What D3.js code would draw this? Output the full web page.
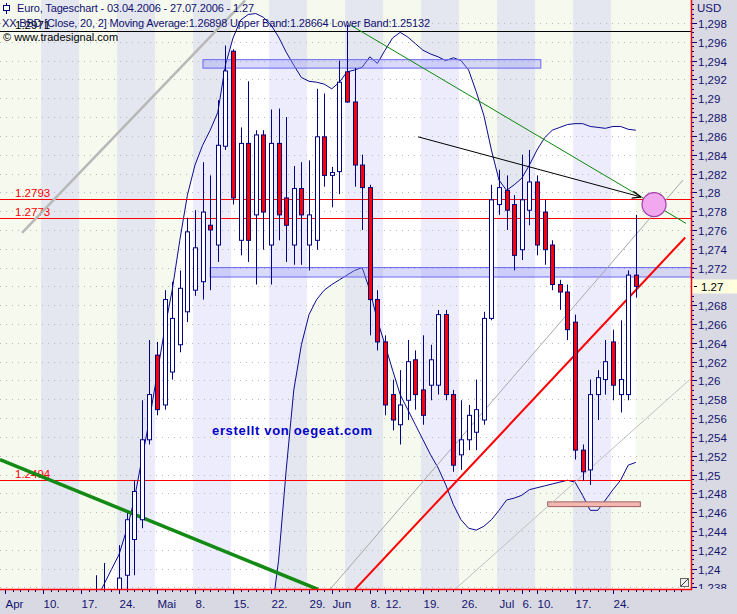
<!DOCTYPE html>
<html><head><meta charset="utf-8">
<script src="https://cdn.jsdelivr.net/npm/d3@7"></script>
<style>
body{margin:0;background:#fff;}
svg{display:block;font-family:"Liberation Sans",Arial,sans-serif;}
</style></head><body>
<svg id="chart" width="737" height="614"></svg>
<script>
// ---------------- data ----------------
const dates = ["03.04.","04.04.","05.04.","06.04.","07.04.","10.04.","11.04.","12.04.","13.04.","14.04.",
"17.04.","18.04.","19.04.","20.04.","21.04.","24.04.","25.04.","26.04.","27.04.","28.04.",
"01.05.","02.05.","03.05.","04.05.","05.05.","08.05.","09.05.","10.05.","11.05.","12.05.",
"15.05.","16.05.","17.05.","18.05.","19.05.","22.05.","23.05.","24.05.","25.05.","26.05.",
"29.05.","30.05.","31.05.","01.06.","02.06.","05.06.","06.06.","07.06.","08.06.","09.06.",
"12.06.","13.06.","14.06.","15.06.","16.06.","19.06.","20.06.","21.06.","22.06.","23.06.",
"26.06.","27.06.","28.06.","29.06.","30.06.","03.07.","04.07.","05.07.","06.07.","07.07.",
"10.07.","11.07.","12.07.","13.07.","14.07.","17.07.","18.07.","19.07.","20.07.","21.07.",
"24.07.","25.07.","26.07.","27.07."];
const open  = [1.2110,1.2150,1.2230,1.2260,1.2180,1.2100,1.2110,1.2120,1.2090,1.2100,
1.2110,1.2220,1.2320,1.2350,1.2330,1.2350,1.2393,1.2431,1.2452,1.2537,
1.2627,1.2574,1.2609,1.2638,1.2673,1.2696,1.2705,1.2765,1.2744,1.2849,
1.2950,1.2749,1.2852,1.2776,1.2861,1.2744,1.2852,1.2794,1.2744,1.2804,
1.2744,1.2749,1.2859,1.2818,1.2822,1.2928,1.2896,1.2829,1.2805,1.2686,
1.2641,1.2585,1.2553,1.2579,1.2622,1.2590,1.2595,1.2595,1.2670,1.2585,
1.2521,1.2537,1.2545,1.2558,1.2666,1.2787,1.2802,1.2787,1.2739,1.2781,
1.2811,1.2779,1.2744,1.2702,1.2694,1.2662,1.2526,1.2505,1.2585,1.2601,
1.2641,1.2585,1.2585,1.2712];
const high  = [1.2170,1.2240,1.2290,1.2270,1.2190,1.2130,1.2140,1.2130,1.2120,1.2120,
1.2240,1.2340,1.2393,1.2406,1.2370,1.2425,1.2459,1.2494,1.2579,1.2643,
1.2641,1.2696,1.2705,1.2717,1.2773,1.2781,1.2832,1.2818,1.2898,1.2956,
1.2952,1.2869,1.2918,1.2866,1.2866,1.2888,1.2889,1.2880,1.2828,1.2832,
1.2834,1.2910,1.2905,1.2827,1.2940,1.2978,1.2932,1.2840,1.2808,1.2696,
1.2648,1.2601,1.2611,1.2643,1.2632,1.2648,1.2638,1.2675,1.2675,1.2590,
1.2579,1.2574,1.2601,1.2673,1.2808,1.2824,1.2818,1.2797,1.2840,1.2845,
1.2818,1.2792,1.2749,1.2707,1.2702,1.2670,1.2532,1.2601,1.2611,1.2643,
1.2654,1.2664,1.2717,1.2776];
const low   = [1.2090,1.2140,1.2220,1.2170,1.2070,1.2080,1.2090,1.2070,1.2060,1.2090,
1.2100,1.2210,1.2300,1.2310,1.2300,1.2330,1.2378,1.2393,1.2443,1.2532,
1.2563,1.2569,1.2601,1.2630,1.2662,1.2690,1.2686,1.2696,1.2726,1.2845,
1.2787,1.2733,1.2726,1.2702,1.2739,1.2702,1.2749,1.2726,1.2723,1.2723,
1.2717,1.2739,1.2806,1.2784,1.2798,1.2895,1.2806,1.2760,1.2648,1.2632,
1.2563,1.2547,1.2532,1.2558,1.2569,1.2553,1.2579,1.2585,1.2579,1.2503,
1.2505,1.2526,1.2526,1.2553,1.2664,1.2776,1.2760,1.2717,1.2728,1.2765,
1.2733,1.2723,1.2696,1.2675,1.2643,1.2516,1.2494,1.2489,1.2558,1.2585,
1.2579,1.2566,1.2579,1.2688];
const close = [1.2150,1.2230,1.2260,1.2180,1.2100,1.2110,1.2120,1.2090,1.2100,1.2110,
1.2220,1.2320,1.2350,1.2330,1.2350,1.2390,1.2452,1.2482,1.2537,1.2585,
1.2569,1.2686,1.2666,1.2698,1.2758,1.2741,1.2779,1.2760,1.2850,1.2929,
1.2794,1.2852,1.2749,1.2861,1.2779,1.2852,1.2776,1.2765,1.2804,1.2776,
1.2776,1.2859,1.2818,1.2821,1.2917,1.2896,1.2829,1.2805,1.2686,1.2641,
1.2574,1.2558,1.2574,1.2620,1.2585,1.2563,1.2622,1.2670,1.2585,1.2510,
1.2537,1.2563,1.2569,1.2666,1.2792,1.2805,1.2781,1.2733,1.2792,1.2811,
1.2744,1.2739,1.2702,1.2694,1.2654,1.2526,1.2503,1.2585,1.2603,1.2620,
1.2595,1.2601,1.2712,1.2700];
// Bollinger (20,2), null = not visible
const upperBand = [null,null,null,null,null,null,null,null,null,null,null,null,
1.2367,1.2383,1.2399,1.2415,1.2441,1.2473,1.2516,1.2558,
1.2606,1.2654,1.2696,1.2749,1.2797,1.2829,1.2850,1.2866,1.2885,1.2935,
1.2964,1.2983,1.2989,1.2990,1.2986,1.2978,1.2965,1.2949,1.2935,1.2922,
1.2918,1.2917,1.2915,1.2910,1.2917,1.2928,1.2930,1.2933,1.2944,1.2937,
1.2951,1.2964,1.2970,1.2965,1.2958,1.2951,1.2947,1.2944,1.2940,1.2943,
1.2940,1.2930,1.2907,1.2882,1.2845,1.2813,1.2802,1.2808,1.2815,1.2829,
1.2845,1.2858,1.2866,1.2869,1.2872,1.2873,1.2873,1.2870,1.2869,1.2868,
1.2870,1.2870,1.2867,1.2866];
const lowerBand = [null,null,null,null,null,null,null,null,null,null,
null,null,null,null,null,null,null,null,null,null,
null,null,null,null,null,null,null,null,null,null,
null,null,null,null,null,1.2346,1.2409,1.2505,1.2590,1.2638,
1.2670,1.2686,1.2696,1.2702,1.2707,1.2712,1.2717,1.2720,1.2696,1.2664,
1.2638,1.2611,1.2585,1.2569,1.2553,1.2537,1.2521,1.2507,1.2489,1.2468,
1.2452,1.2443,1.2441,1.2445,1.2452,1.2462,1.2473,1.2475,1.2478,1.2484,
1.2486,1.2488,1.2490,1.2492,1.2494,1.2492,1.2478,1.2462,1.2462,1.2473,
1.2484,1.2494,1.2510,1.2513];
const yTickValues = [1.238,1.240,1.242,1.244,1.246,1.248,1.250,1.252,1.254,1.256,1.258,1.260,
1.262,1.264,1.266,1.268,1.270,1.272,1.274,1.276,1.278,1.280,1.282,1.284,1.286,1.288,1.290,
1.292,1.294,1.296,1.298];
const xTickLabels = ["Apr","10.","17.","24.","Mai","8.","15.","22.","29.","Jun","8.","12.","19.","26.","Jul","6.","10.","17.","24."];
const xTickDates  = ["03.04.","10.04.","17.04.","24.04.","01.05.","08.05.","15.05.","22.05.","29.05.","01.06.","08.06.","12.06.","19.06.","26.06.","03.07.","06.07.","10.07.","17.07.","24.07."];
const levelValues = [1.2971, 1.2793, 1.2773, 1.2494];
const levelLabels = ["1.2971","1.2793","1.2773","1.2494"];
const lastPrice = 1.27;
// drawn objects, in (day index, price)
const trendNames = ["grau","gruen","rot","kanalOben","kanalUnten","widerstand","pfeil"];
const trendFrom  = [[2.24,1.2757],[-0.66,1.2516],[46.05,1.2378],[42.76,1.2378],[59.2,1.2378],[45.4,1.2978],[54.34,1.2859]];
const trendTo    = [[31.6,1.3004],[41.18,1.2378],[89.5,1.2752],[89.2,1.2813],[90.1,1.2601],[89.6,1.2767],[83.7,1.2795]];
const boxNames = ["oben","mitte","unten"];
const boxDays  = [[26.05,70.5],[27,90.3],[71.4,83.6]];
const boxPrice = [[1.2932,1.2941],[1.2710,1.2720],[1.2466,1.2471]];
const circleAt = [85.4, 1.2787];

// ---------------- chart ----------------
const W = 737, H = 614, PR = 691, PB = 589;
const svg = d3.select("#chart");
const x = d3.scaleLinear().domain([0, 83]).range([5, 5 + 7.6 * 83]);
const y = d3.scaleLinear().domain([1.23784, 1.30044]).range([PB, 0]);

const C_CREAM = "#f6f9ee", C_GRAY = "#e4e7ef", C_LAV = "#ececfd", C_WHITE = "#ffffff";
const NAVY = "#000080";

svg.append("defs").append("clipPath").attr("id","plot")
  .append("rect").attr("x",0).attr("y",0).attr("width",PR).attr("height",PB);

const plot = svg.append("g").attr("clip-path","url(#plot)");
plot.append("rect").attr("width",PR).attr("height",PB).attr("fill",C_CREAM);

// weekly stripes (only over weeks with data)
const mondays = d3.range(0, dates.length, 5);
const grayWeeks = mondays.filter((m,k)=>k%2===1);
plot.selectAll("rect.wk").data(grayWeeks).enter().append("rect")
  .attr("class","wk").attr("x",m=>x(m-0.25)).attr("width",m=>x(m+4.75)-x(m-0.25))
  .attr("y",0).attr("height",PB).attr("fill",C_GRAY);

// band interior
const bandIdx = d3.range(dates.length).filter(i=>upperBand[i]!==null);
const area = d3.area().x(i=>x(i)).y1(i=>y(upperBand[i]))
  .y0(i=>lowerBand[i]!==null? y(lowerBand[i]) : PB+40);
svg.select("defs").append("clipPath").attr("id","band")
  .append("path").attr("d", area(bandIdx));
const bandG = plot.append("g").attr("clip-path","url(#band)");
bandG.append("rect").attr("width",PR).attr("height",PB).attr("fill",C_WHITE);
bandG.selectAll("rect.wk2").data(grayWeeks).enter().append("rect")
  .attr("x",m=>x(m-0.25)).attr("width",m=>x(m+4.75)-x(m-0.25))
  .attr("y",0).attr("height",PB).attr("fill",C_LAV);

// grid
plot.selectAll("line.grid").data(yTickValues).enter().append("line")
  .attr("x1",0).attr("x2",PR).attr("y1",v=>Math.round(y(v))+0.5).attr("y2",v=>Math.round(y(v))+0.5)
  .attr("stroke","#b8b8b8").attr("stroke-dasharray","1,5");

// band lines
const upLine = d3.line().x(i=>x(i)).y(i=>y(upperBand[i]));
plot.append("path").attr("d",upLine(bandIdx)).attr("fill","none").attr("stroke","#0a0a90").attr("stroke-width",1);
const lowIdx = d3.range(dates.length).filter(i=>lowerBand[i]!==null);
const lowLine = d3.line().x(i=>x(i)).y(i=>y(lowerBand[i]));
plot.append("path").attr("d",lowLine(lowIdx)).attr("fill","none").attr("stroke","#0a0a90").attr("stroke-width",1);

// boxes
const boxStyle = {oben:["rgba(150,150,250,0.35)","#6868f0"], mitte:["rgba(150,150,250,0.35)","#6868f0"], unten:["#f4b8b0","#a06060"]};
boxNames.forEach((n,k)=>{
  plot.append("rect").attr("x",x(boxDays[k][0])).attr("width",x(boxDays[k][1])-x(boxDays[k][0]))
    .attr("y",y(boxPrice[k][1])).attr("height",y(boxPrice[k][0])-y(boxPrice[k][1]))
    .attr("fill",boxStyle[n][0]).attr("stroke",boxStyle[n][1]).attr("stroke-width",1);
});

// horizontal levels
const levelColor = ["#000000","#ff0000","#ff0000","#ff0000"];
levelValues.forEach((v,k)=>{
  const yy = Math.round(y(v))+0.5;
  plot.append("line").attr("x1",0).attr("x2",PR).attr("y1",yy).attr("y2",yy)
    .attr("stroke",levelColor[k]).attr("stroke-width",1.2);
  plot.append("text").attr("x",15).attr("y",yy-3).attr("font-size",11.5)
    .attr("fill",levelColor[k]).text(levelLabels[k]);
});

// trend lines
const trendStyle = {grau:["#b8b8b8",2.5], gruen:["#138a13",3.5], rot:["#ff0000",2], kanalOben:["#a8a8a8",1],
  kanalUnten:["#c0c0c0",1], widerstand:["#0a8a0a",1], pfeil:["#000000",1]};
svg.select("defs").append("marker").attr("id","arr").attr("viewBox","0 0 10 10").attr("refX",10).attr("refY",5)
  .attr("markerWidth",9).attr("markerHeight",9).attr("orient","auto-start-reverse")
  .append("path").attr("d","M0,1 L10,5 L0,9").attr("fill","none").attr("stroke","#000").attr("stroke-width",1.2);
trendNames.forEach((n,k)=>{
  const l = plot.append("line").attr("x1",x(trendFrom[k][0])).attr("y1",y(trendFrom[k][1]))
    .attr("x2",x(trendTo[k][0])).attr("y2",y(trendTo[k][1]))
    .attr("stroke",trendStyle[n][0]).attr("stroke-width",trendStyle[n][1]);
  if(n==="pfeil") l.attr("marker-end","url(#arr)");
});

// candles
const cg = plot.append("g");
dates.forEach((d,i)=>{
  const c = Math.round(x(i));
  cg.append("line").attr("x1",c+0.5).attr("x2",c+0.5).attr("y1",y(high[i])).attr("y2",y(low[i]))
    .attr("stroke",NAVY).attr("stroke-width",1);
  const top = y(Math.max(open[i],close[i])), bot = y(Math.min(open[i],close[i]));
  cg.append("rect").attr("x",c-1.5).attr("width",4).attr("y",top).attr("height",Math.max(1,bot-top))
    .attr("fill",close[i]>=open[i]?"#ffffff":"#ff0000").attr("stroke",NAVY).attr("stroke-width",1);
});

// circle
plot.append("circle").attr("cx",x(circleAt[0])).attr("cy",y(circleAt[1])).attr("r",12)
  .attr("fill","#f2a8ee").attr("stroke","#a03ca8").attr("stroke-width",1.2);

// watermark text
plot.append("text").attr("x",212).attr("y",435).attr("font-size",13).attr("font-weight","bold")
  .attr("fill","#0000c8").attr("textLength",160).text("erstellt von oegeat.com");

// ---------------- axes ----------------
svg.append("rect").attr("x",PR).attr("y",0).attr("width",W-PR).attr("height",H).attr("fill","#d9d9e3");
svg.append("rect").attr("x",0).attr("y",PB).attr("width",W).attr("height",H-PB).attr("fill","#d9d9e3");

svg.select("defs").append("clipPath").attr("id","yax").append("rect").attr("x",PR).attr("y",0).attr("width",W-PR).attr("height",PB);
const yax = svg.append("g").attr("clip-path","url(#yax)");
d3.range(0, 127).map(k=>1.2375+k*0.0005).forEach(v=>{
  const yy = Math.round(y(v))+0.5;
  yax.append("line").attr("x1",PR+1).attr("x2",PR+3).attr("y1",yy).attr("y2",yy).attr("stroke",NAVY);
});
yTickValues.forEach(v=>{
  if (Math.abs(v-lastPrice)<1e-9) return;
  const yy = Math.round(y(v))+0.5;
  yax.append("line").attr("x1",PR+2).attr("x2",PR+6).attr("y1",yy).attr("y2",yy).attr("stroke",NAVY);
  yax.append("text").attr("x",PR+7).attr("y",yy+4).attr("font-size",11.5).attr("fill","#14146e")
    .text(String(+v.toFixed(3)).replace(".",","));
});
const ly = Math.round(y(lastPrice))+0.5;
yax.append("rect").attr("x",PR+1).attr("y",ly-7).attr("width",W-PR-1).attr("height",14).attr("fill","#ffffe0");
yax.append("line").attr("x1",PR+3).attr("x2",PR+6).attr("y1",ly).attr("y2",ly).attr("stroke","#000");
yax.append("text").attr("x",PR+10).attr("y",ly+4).attr("font-size",11.5).attr("fill","#000").text(String(lastPrice));
svg.append("text").attr("x",PR+6).attr("y",12).attr("font-size",11.5).attr("fill","#14146e").text("USD");

// x ticks
d3.range(90).forEach(i=>{
  const c = Math.round(x(i))+0.5;
  if (c>PR) return;
  svg.append("line").attr("x1",c).attr("x2",c).attr("y1",PB+1).attr("y2",PB+3).attr("stroke",NAVY);
});
xTickDates.forEach((d,k)=>{
  const i = dates.indexOf(d);
  const c = Math.round(x(i))+0.5;
  svg.append("line").attr("x1",c).attr("x2",c).attr("y1",PB+1).attr("y2",PB+5).attr("stroke",NAVY);
  svg.append("text").attr("x",c).attr("y",608).attr("font-size",11.5).attr("fill","#14146e").text(xTickLabels[k]);
});

// frame lines
svg.append("line").attr("x1",PR+0.5).attr("x2",PR+0.5).attr("y1",0).attr("y2",PB+1).attr("stroke","#ff0000").attr("stroke-width",1.5);
svg.append("line").attr("x1",0).attr("x2",PR+1).attr("y1",PB+0.5).attr("y2",PB+0.5).attr("stroke","#ff0000").attr("stroke-width",1.5);
svg.append("rect").attr("x",PR-10.5).attr("y",PB-10.5).attr("width",8).attr("height",8).attr("fill","#eee").attr("stroke","#666");
svg.append("line").attr("x1",PR-10).attr("y1",PB-3).attr("x2",PR-3).attr("y2",PB-10).attr("stroke","#333");

// header texts
svg.append("line").attr("x1",6.5).attr("x2",6.5).attr("y1",3).attr("y2",14).attr("stroke",NAVY);
svg.append("rect").attr("x",3.5).attr("y",5.5).attr("width",6).attr("height",5).attr("fill","#fff").attr("stroke",NAVY);
svg.append("text").attr("x",17).attr("y",12).attr("font-size",11).attr("fill","#101070").attr("textLength",237)
  .text("Euro, Tageschart - 03.04.2006 - 27.07.2006 - 1.27");
svg.append("text").attr("x",2).attr("y",27).attr("font-size",11).attr("fill","#101070").attr("textLength",428)
  .text("XX BBD [Close, 20, 2] Moving Average:1.26898 Upper Band:1.28664 Lower Band:1.25132");
svg.append("text").attr("x",3).attr("y",41).attr("font-size",11).attr("fill","#000").text("© www.tradesignal.com");
</script></body></html>
